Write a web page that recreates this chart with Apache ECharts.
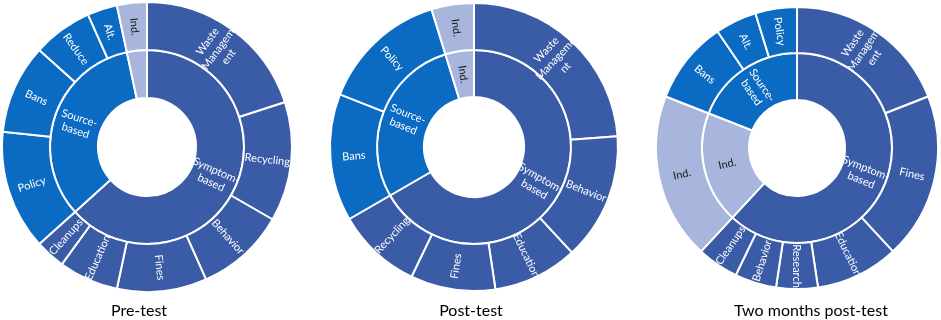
<!DOCTYPE html>
<html>
<head>
<meta charset="utf-8">
<script src="https://cdn.jsdelivr.net/npm/echarts@6/dist/echarts.min.js"></script>
<style>html,body{margin:0;padding:0;background:#fff}#c{width:941px;height:320px}</style>
</head>
<body>
<div id="c"></div>
<script>
// ---- Data (counts) ----
const chartTitles = ['Pre-test', 'Post-test', 'Two months post-test'];
const groupNames = ['Symptom-based', 'Source-based', 'Ind.'];

// Pre-test
const preSymptomNames = ['Waste Management', 'Recycling', 'Behavior', 'Fines', 'Education', 'Cleanups'];
const preSymptomValues = [6, 4, 3, 3, 2, 1];
const preSourceNames = ['Policy', 'Bans', 'Reduce', 'Alt.'];
const preSourceValues = [4, 3, 2, 1];
const preIndNames = ['Ind.'];
const preIndValues = [1];
const preGroupOrder = ['Symptom-based', 'Source-based', 'Ind.'];

// Post-test
const postSymptomNames = ['Waste Management', 'Behavior', 'Education', 'Fines', 'Recycling'];
const postSymptomValues = [5, 3, 2, 2, 2];
const postSourceNames = ['Bans', 'Policy'];
const postSourceValues = [3, 3];
const postIndNames = ['Ind.'];
const postIndValues = [1];
const postGroupOrder = ['Symptom-based', 'Source-based', 'Ind.'];

// Two months post-test
const twoSymptomNames = ['Waste Management', 'Fines', 'Education', 'Research', 'Behavior', 'Cleanups'];
const twoSymptomValues = [4, 4, 2, 1, 1, 1];
const twoSourceNames = ['Bans', 'Alt.', 'Policy'];
const twoSourceValues = [2, 1, 1];
const twoIndNames = ['Ind.'];
const twoIndValues = [4];
const twoGroupOrder = ['Symptom-based', 'Ind.', 'Source-based'];

// ---- Styling ----
const groupColors = {'Symptom-based': '#3A5BA6', 'Source-based': '#0B6BC2', 'Ind.': '#A8B6DD'};
const groupTextColors = {'Symptom-based': '#ffffff', 'Source-based': '#ffffff', 'Ind.': '#1a1a1a'};
const groupLabels = {'Symptom-based': 'Symptom-\nbased', 'Source-based': 'Source-\nbased', 'Ind.': 'Ind.'};
const wrapPerChart = [
  {'Waste Management': 'Waste\nManagem\nent'},
  {'Waste Management': 'Waste\nManageme\nnt'},
  {'Waste Management': 'Waste\nManagem\nent'}
];
const layouts = [
  {center: [147, 147], r0: 49, r1: 97, r2: 145, titleX: 134, hideInnerInd: true},
  {center: [474, 147], r0: 50, r1: 97, r2: 144, titleX: 466, hideInnerInd: false},
  {center: [797, 148], r0: 48, r1: 95, r2: 141, titleX: 806, hideInnerInd: false}
];
const FONT = 'Lato, "Open Sans", sans-serif';

function buildTree(idx, order, groups) {
  const wrap = wrapPerChart[idx];
  return order.map(g => {
    const names = groups[g][0], vals = groups[g][1];
    const col = groupColors[g], tc = groupTextColors[g];
    return {
      name: g,
      itemStyle: {color: col},
      label: {formatter: groupLabels[g], color: tc, show: !(g === 'Ind.' && layouts[idx].hideInnerInd)},
      children: names.map((n, i) => ({
        name: n,
        value: vals[i],
        itemStyle: {color: col},
        label: {formatter: wrap[n] || n, color: tc}
      }))
    };
  });
}

const trees = [
  buildTree(0, preGroupOrder, {
    'Symptom-based': [preSymptomNames, preSymptomValues],
    'Source-based': [preSourceNames, preSourceValues],
    'Ind.': [preIndNames, preIndValues]
  }),
  buildTree(1, postGroupOrder, {
    'Symptom-based': [postSymptomNames, postSymptomValues],
    'Source-based': [postSourceNames, postSourceValues],
    'Ind.': [postIndNames, postIndValues]
  }),
  buildTree(2, twoGroupOrder, {
    'Symptom-based': [twoSymptomNames, twoSymptomValues],
    'Source-based': [twoSourceNames, twoSourceValues],
    'Ind.': [twoIndNames, twoIndValues]
  })
];

const chart = echarts.init(document.getElementById('c'), null, {renderer: 'canvas'});
const option = {
  animation: false,
  textStyle: {fontFamily: FONT},
  title: chartTitles.map((t, i) => ({
    text: t,
    left: layouts[i].titleX,
    top: 298,
    textAlign: 'center',
    textStyle: {fontFamily: FONT, fontSize: 16, fontWeight: 'normal', color: '#000'}
  })),
  series: trees.map((tree, i) => ({
    type: 'sunburst',
    center: layouts[i].center,
    radius: [layouts[i].r0, layouts[i].r2],
    sort: null,
    nodeClick: false,
    startAngle: 90,
    data: tree,
    emphasis: {disabled: true},
    itemStyle: {borderColor: '#ffffff', borderWidth: 2},
    label: {rotate: 'radial', fontSize: 11, fontFamily: FONT, lineHeight: 13, color: '#fff'},
    levels: [
      {},
      {r0: layouts[i].r0, r: layouts[i].r1, label: {fontSize: 11}},
      {r0: layouts[i].r1, r: layouts[i].r2, label: {fontSize: 11}}
    ]
  }))
};
chart.setOption(option);
</script>
</body>
</html>
